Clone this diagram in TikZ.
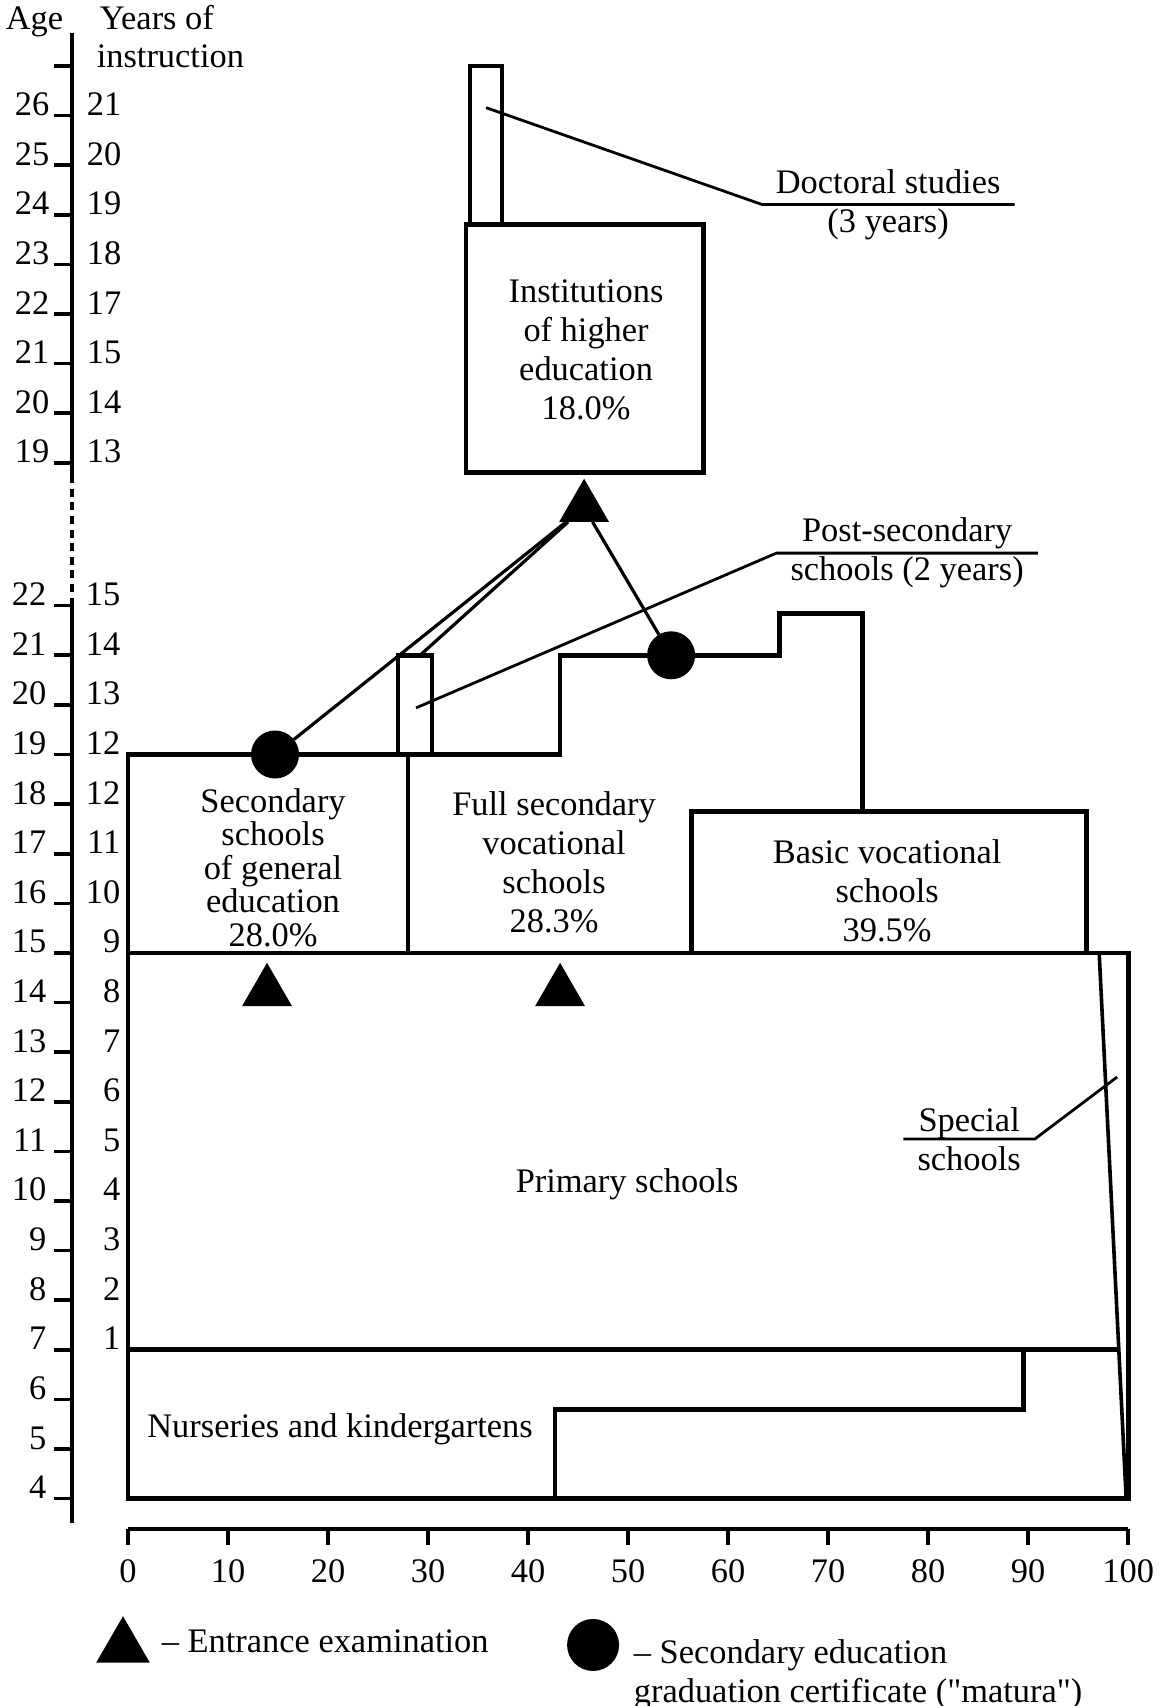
\documentclass[tikz,border=0pt]{standalone}
\usepackage{fontspec}
\setmainfont{Liberation Serif}
\newfontfamily\quotefont{Liberation Serif}
\usepackage{tikz}
\usetikzlibrary{shapes.geometric,positioning}

\newcommand{\chartfont}{\fontsize{8.6}{9.7}\selectfont}
\newcommand{\straightquote}{{\quotefont"}}

\tikzset{
    schoolbox/.style={draw=black, line width=1.2pt},
    specialline/.style={draw=black, line width=0.9pt},
    leaderline/.style={draw=black, line width=0.7pt},
    examline/.style={draw=black, line width=0.8pt},
    axisline/.style={draw=black, line width=0.9pt},
    boxlabel/.style={font=\chartfont, align=center},
    ticklabel/.style={font=\chartfont, inner sep=0pt, anchor=base east},
    headlabel/.style={font=\chartfont, inner sep=0pt},
    entrance/.style={regular polygon, regular polygon sides=3, fill=black,
        minimum size=14.4pt, inner sep=0pt, outer sep=0pt, anchor=corner 1},
    matura/.style={circle, fill=black, minimum size=12pt, inner sep=0pt, outer sep=0pt},
}

\begin{document}
\begin{tikzpicture}[x=2.5pt, y=12.4pt]
    \useasboundingbox (-12.8,-0.18) rectangle (103.3,34.21);

    % age axis, lower part (ages 4-22)
    \draw[axisline] (-5.6,3.5) -- (-5.6,22);
    \draw[axisline, dash pattern=on 2pt off 1.4pt] (-5.6,22) -- (-5.6,24.5);
    \foreach \age/\yr in {4/,5/,6/,7/1,8/2,9/3,10/4,11/5,12/6,13/7,14/8,15/9,
                          16/10,17/11,18/12,19/12,20/13,21/14,22/15} {
        \draw[axisline] (-7.4,\age) -- (-5.6,\age);
        \node[ticklabel] at (-8.1,\age) {\age};
        \node[ticklabel] at (-0.7,\age) {\yr};
    }

    % percentage axis
    \draw[axisline] (0,3.39) -- (100,3.39);
    \foreach \p in {0,10,...,100} {
        \draw[axisline] (\p,3.39) -- (\p,3.06);
        \node[font=\chartfont, anchor=base] at (\p,2.3) {\p};
    }

    % primary schools and nurseries
    \draw[schoolbox] (0,4) rectangle (100,15);
    \draw[schoolbox] (0,7) -- (99,7);
    \draw[specialline] (97.1,15) -- (99.8,4);
    \draw[schoolbox] (42.7,4) -- (42.7,5.8) -- (89.5,5.8) -- (89.5,7);

    % secondary level
    \draw[schoolbox] (0,15) rectangle (28,19);
    \draw[schoolbox] (28,19) -- (43.2,19) -- (43.2,21) -- (65.1,21)
        -- (65.1,21.85) -- (73.4,21.85) -- (73.4,17.85);
    \draw[schoolbox] (56.3,15) rectangle (95.8,17.85);
    \draw[schoolbox] (27,19) rectangle (30.4,21);

    \node[boxlabel] (primary) at (49.9,10.34) {Primary schools};
    \node[boxlabel] (nursery) at (21.2,5.4) {Nurseries and kindergartens};
    \node[boxlabel, font=\fontsize{8.6}{8.4}\selectfont] (general) at (14.5,16.72)
        {Secondary\\schools\\of general\\education\\28.0\%};
    \node[boxlabel] (fullvoc) at (42.6,16.83) {Full secondary\\vocational\\schools\\28.3\%};
    \node[boxlabel] (basicvoc) at (75.9,16.25) {Basic vocational\\schools\\39.5\%};

    \node[entrance] (gentri) at (13.9,14.8) {};
    \node[entrance] (voctri) at (43.2,14.8) {};
    \node[matura] (gencirc) at (14.7,19) {};
    \node[matura] (voccirc) at (54.3,21) {};

    \coordinate (pstop) at (29.2,21);
    \coordinate (psin) at (28.8,19.94);
    \node[boxlabel] (postsec) at (77.9,23.06) {Post-secondary\\schools (2 years)};
    \draw[leaderline] (psin) -- (postsec.west) -- (postsec.east);

    \coordinate (spin) at (98.9,12.5);
    \node[boxlabel] (special) at (84.1,11.25) {Special\\schools};
    \draw[leaderline] (special.west) -- (special.east) -- (spin);

    % upper part (ages 19-27)
    \begin{scope}[yshift=72.9pt]
        \draw[axisline] (-5.6,18.6) -- (-5.6,27.67);
        \foreach \age/\agetext/\yr in {19/19/13,20/20/14,21/21/15,22/22/17,23/23/18,
                                       24/24/19,25/25/20,26/26/21,27//} {
            \draw[axisline] (-7.4,\age) -- (-5.6,\age);
            \node[ticklabel] at (-7.8,\age) {\agetext};
            \node[ticklabel] at (-0.6,\age) {\yr};
        }
        \node[headlabel, anchor=base east] (agehead) at (-6.4,27.73) {Age};
        \node[headlabel, anchor=base west] (yearshead) at (-2.9,27.73) {Years of};
        \node[headlabel, anchor=base west] (instrhead) at (-3.2,26.97) {instruction};

        \draw[schoolbox] (33.8,18.8) rectangle (57.5,23.8);
        \draw[schoolbox] (34.2,23.8) rectangle (37.4,27);
        \node[boxlabel] (higher) at (45.8,21.28) {Institutions\\of higher\\education\\18.0\%};
        \node[entrance] (hetri) at (45.6,18.68) {};

        \coordinate (docin) at (35.8,26.16);
        \node[boxlabel] (doctoral) at (76.0,24.21) {Doctoral studies\\(3 years)};
        \draw[leaderline] (docin) -- (doctoral.west) -- (doctoral.east);
    \end{scope}

    \draw[examline] (gencirc) -- (hetri);
    \draw[examline] (pstop) -- (hetri);
    \draw[examline] (hetri) -- (voccirc);

    % legend
    \node[entrance, minimum size=15.5pt] (legtri) at (-0.5,1.63) {};
    \node[headlabel, anchor=base west] (legexam) at (3.3,0.89) {-- Entrance examination};
    \node[matura, minimum size=13pt] (legcirc) at (46.5,1.05) {};
    \node[headlabel, anchor=north west, align=left] (legmatura) at (50.5,1.17)
        {-- Secondary education\\graduation certificate (\straightquote matura\straightquote)};
\end{tikzpicture}
\end{document}
